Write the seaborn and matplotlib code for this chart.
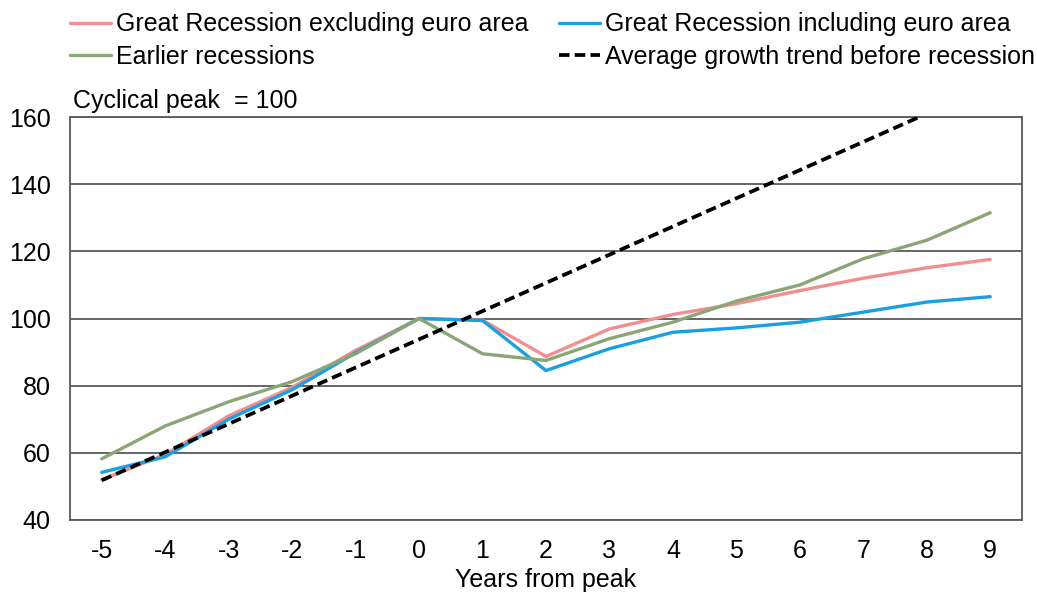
import pandas as pd
import seaborn as sns
from matplotlib import pyplot as plt

years = [-5, -4, -3, -2, -1, 0, 1, 2, 3, 4, 5, 6, 7, 8, 9]
excl_euro = [52.0, 59.5, 71.0, 79.5, 90.5, 100.0, 99.5, 88.7, 96.9, 101.2, 104.4, 108.3, 112.0, 115.1, 117.6]
incl_euro = [54.2, 58.8, 70.0, 78.8, 89.8, 100.0, 99.4, 84.5, 91.0, 95.9, 97.2, 98.9, 101.9, 104.9, 106.5]
earlier = [58.2, 68.0, 75.2, 81.2, 89.5, 100.0, 89.5, 87.5, 94.0, 98.9, 105.2, 110.0, 117.8, 123.3, 131.5]
trend = [51.8, 60.2, 68.6, 77.0, 85.4, 93.8, 102.2, 110.6, 119.0, 127.4, 135.8, 144.2, 152.6, 161.0, 169.4]

labels = ["Great Recession excluding euro area", "Great Recession including euro area",
          "Earlier recessions", "Average growth trend before recession"]
colors = ["#ef8f8f", "#1a9fe0", "#8aa677", "black"]

df = pd.DataFrame({"year": years, labels[0]: excl_euro, labels[1]: incl_euro,
                   labels[2]: earlier, labels[3]: trend})

sns.set_style("white")
plt.rcParams['font.family'] = ['Liberation Sans', 'DejaVu Sans']
plt.rcParams['axes.unicode_minus'] = False
plt.rcParams['text.color'] = 'black'
plt.rcParams['axes.labelcolor'] = 'black'

fig = plt.figure(figsize=(10.37, 5.94), dpi=100)
ax = fig.add_axes([0.0675, 0.1246, 0.918, 0.6784])

for lab, col in zip(labels, colors):
    if col == "black":
        sns.lineplot(x="year", y=lab, data=df, ax=ax, color=col, lw=2.7,
                     dashes=False, label=lab, legend=False, zorder=4)
        ax.lines[-1].set_dashes((2.8, 1.4))
    else:
        sns.lineplot(x="year", y=lab, data=df, ax=ax, color=col, lw=2.4,
                     label=lab, legend=False, zorder=3)

ax.set_ylim(40, 160)
ax.set_xlim(-5.5, 9.5)
ax.set_yticks(range(40, 161, 20))
ax.set_xticks(years)
ax.yaxis.grid(True, color="#595959", lw=1.3)
ax.xaxis.grid(False)
for s in ax.spines.values():
    s.set_color("#595959")
    s.set_linewidth(1.3)
ax.tick_params(axis="both", labelsize=18, length=0, colors="black")
ax.tick_params(axis="y", pad=14)
ax.tick_params(axis="x", pad=14)
ax.set_xlabel("Years from peak", fontsize=18, labelpad=3)
ax.set_ylabel("")

fig.text(0.07, 0.81, "Cyclical peak  = 100", fontsize=18, va="bottom", ha="left")

handles, labs = ax.get_legend_handles_labels()
order = [0, 2, 1, 3]
fig.legend([handles[i] for i in order], [labs[i] for i in order], ncol=2,
           loc="upper left", bbox_to_anchor=(0.046, 1.017), frameon=False,
           fontsize=18, handlelength=1.65, handletextpad=0.2, columnspacing=1.2,
           labelspacing=0.35)

fig.savefig("out.png", dpi=100)
